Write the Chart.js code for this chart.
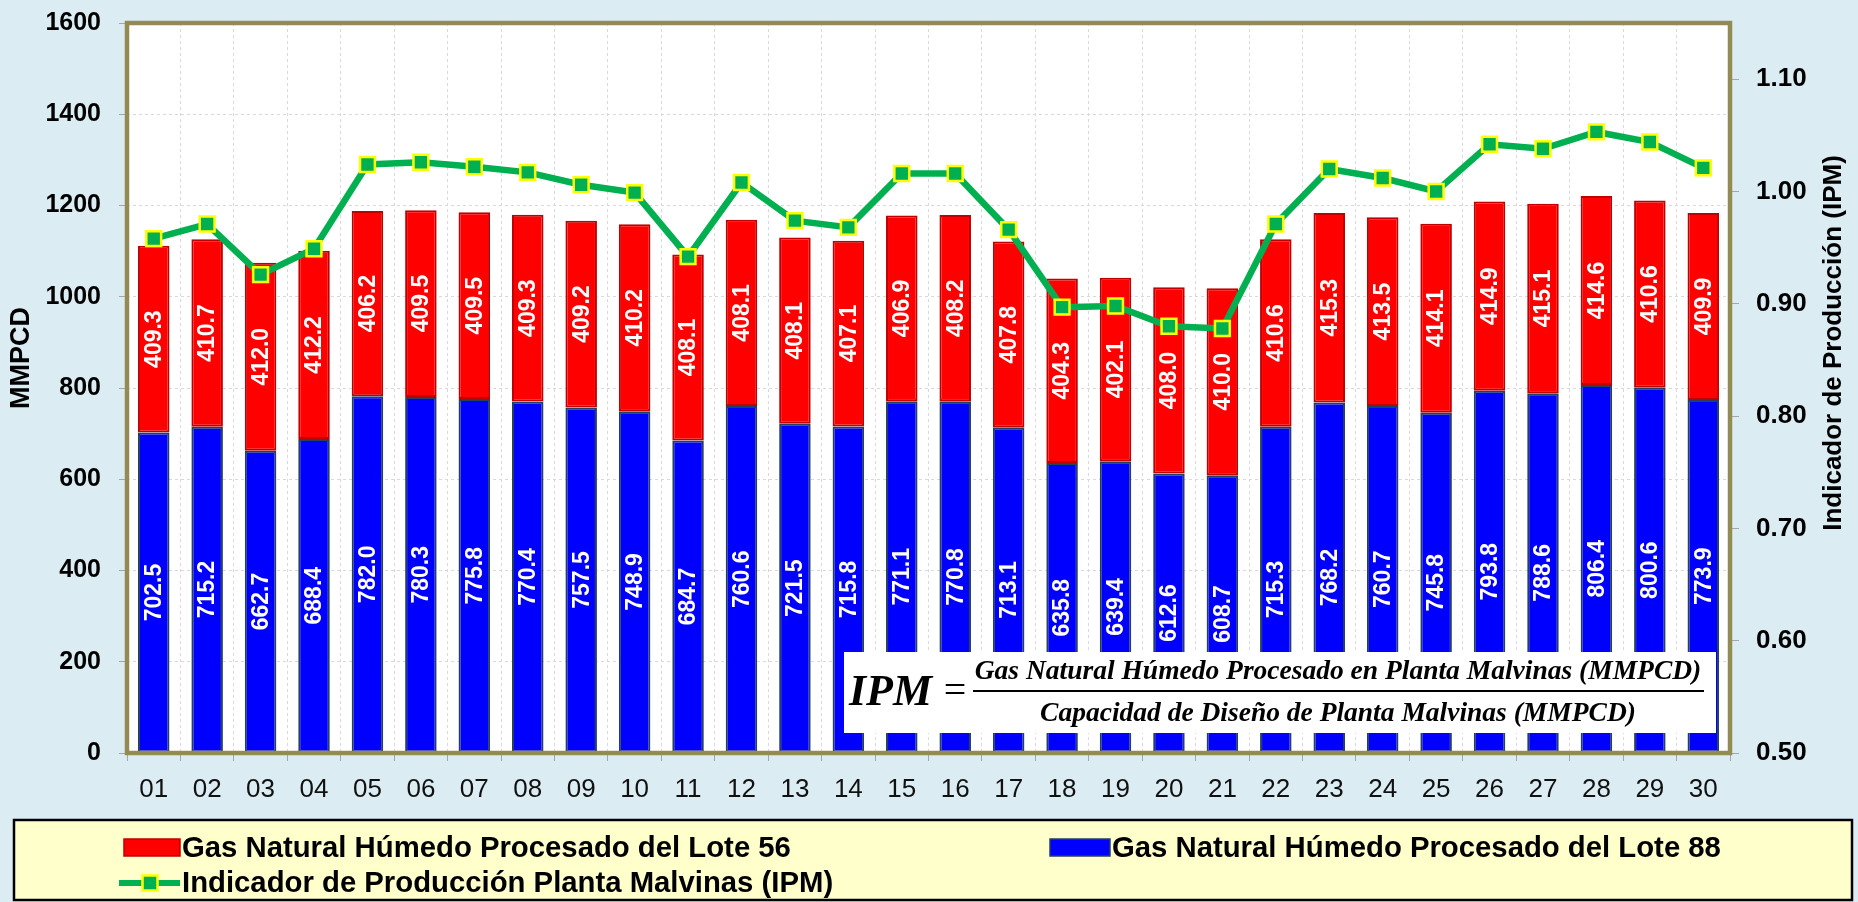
<!DOCTYPE html>
<html>
<head>
<meta charset="utf-8">
<script src="https://cdn.jsdelivr.net/npm/chart.js@4.4.1/dist/chart.umd.min.js"></script>
<style>
  html, body { margin: 0; padding: 0; background: #dbedf3; }
  canvas { display: block; }
</style>
</head>
<body>
<canvas id="chart" width="1858" height="902"></canvas>
<script>
const days = ['01', '02', '03', '04', '05', '06', '07', '08', '09', '10',
  '11', '12', '13', '14', '15', '16', '17', '18', '19', '20',
  '21', '22', '23', '24', '25', '26', '27', '28', '29', '30'];

// MMPCD
const lote56 = [409.3, 410.7, 412.0, 412.2, 406.2, 409.5, 409.5, 409.3, 409.2, 410.2,
  408.1, 408.1, 408.1, 407.1, 406.9, 408.2, 407.8, 404.3, 402.1, 408.0,
  410.0, 410.6, 415.3, 413.5, 414.1, 414.9, 415.1, 414.6, 410.6, 409.9];
const lote88 = [702.5, 715.2, 662.7, 688.4, 782.0, 780.3, 775.8, 770.4, 757.5, 748.9,
  684.7, 760.6, 721.5, 715.8, 771.1, 770.8, 713.1, 635.8, 639.4, 612.6,
  608.7, 715.3, 768.2, 760.7, 745.8, 793.8, 788.6, 806.4, 800.6, 773.9];
// IPM
const ipm = [0.958, 0.971, 0.926, 0.949, 1.024, 1.026, 1.022, 1.017, 1.006, 0.999,
  0.942, 1.008, 0.974, 0.968, 1.016, 1.016, 0.966, 0.897, 0.898, 0.880,
  0.878, 0.971, 1.020, 1.012, 1.000, 1.042, 1.038, 1.053, 1.044, 1.021];

const labels56 = 'Gas Natural Húmedo Procesado del Lote 56';
const labels88 = 'Gas Natural Húmedo Procesado del Lote 88';
const labelIpm = 'Indicador de Producción Planta Malvinas (IPM)';
const titleLeft = 'MMPCD';
const titleRight = 'Indicador de Producción (IPM)';
const formulaTop = 'Gas Natural Húmedo Procesado en Planta Malvinas (MMPCD)';
const formulaBottom = 'Capacidad de Diseño de Planta Malvinas (MMPCD)';

const SANS = '"Liberation Sans", Arial, sans-serif';
const SERIF = '"Liberation Serif", "DejaVu Serif", serif';
const GREEN = '#00b050';

function square(ctx, x, y, s) {
  ctx.fillStyle = GREEN;
  ctx.fillRect(x - s / 2, y - s / 2, s, s);
  ctx.strokeStyle = '#ffff00';
  ctx.lineWidth = 2.5;
  ctx.strokeRect(x - s / 2, y - s / 2, s, s);
}

const decor = {
  id: 'decor',
  beforeDraw(chart) {
    const { ctx, chartArea: a } = chart;
    ctx.save();
    ctx.fillStyle = '#dbedf3';
    ctx.fillRect(0, 0, chart.width, chart.height);
    ctx.fillStyle = '#ffffff';
    ctx.fillRect(a.left, a.top, a.right - a.left, a.bottom - a.top);
    ctx.restore();
  },
  afterDatasetDraw(chart, args) {
    const meta = args.meta;
    if (meta.type !== 'bar') return;
    const ctx = chart.ctx;
    const values = chart.data.datasets[args.index].data;
    ctx.save();
    ctx.fillStyle = '#ffffff';
    ctx.font = 'bold 23px ' + SANS;
    ctx.textAlign = 'center';
    ctx.textBaseline = 'middle';
    meta.data.forEach((bar, i) => {
      ctx.save();
      ctx.translate(bar.x + 1, (bar.y + bar.base) / 2);
      ctx.rotate(-Math.PI / 2);
      ctx.fillText(values[i].toFixed(1), 0, 0);
      ctx.restore();
    });
    ctx.restore();
  },
  afterDatasetsDraw(chart) {
    const { ctx, chartArea: a } = chart;
    ctx.save();
    // formula box
    ctx.fillStyle = '#ffffff';
    ctx.fillRect(844, 652, 872, 81);
    ctx.fillStyle = '#000';
    ctx.textBaseline = 'alphabetic';
    ctx.textAlign = 'left';
    ctx.font = 'bold italic 44px ' + SERIF;
    ctx.fillText('IPM', 849, 705);
    ctx.textAlign = 'center';
    ctx.font = '40px ' + SERIF;
    ctx.fillText('=', 955, 703);
    ctx.font = 'bold italic 24px ' + SERIF;
    const size = 24 * 726 / ctx.measureText(formulaTop).width;
    ctx.font = 'bold italic ' + size.toFixed(1) + 'px ' + SERIF;
    ctx.fillText(formulaTop, 1338, 679);
    ctx.fillText(formulaBottom, 1338, 721);
    ctx.fillRect(973, 690, 731, 2);
    // plot frame
    ctx.strokeStyle = '#948a54';
    ctx.lineWidth = 4.5;
    ctx.strokeRect(a.left, a.top, a.right - a.left, a.bottom - a.top);
    ctx.restore();
  },
  afterDraw(chart) {
    const ctx = chart.ctx;
    const ds = chart.data.datasets;
    ctx.save();
    // axis titles
    ctx.fillStyle = '#000';
    ctx.textAlign = 'center';
    ctx.textBaseline = 'middle';
    ctx.font = 'bold 27px ' + SANS;
    ctx.translate(22, 358);
    ctx.rotate(-Math.PI / 2);
    ctx.fillText(titleLeft, 0, 0);
    ctx.setTransform(1, 0, 0, 1, 0, 0);
    ctx.font = 'bold 26px ' + SANS;
    ctx.translate(1834, 343);
    ctx.rotate(-Math.PI / 2);
    ctx.fillText(titleRight, 0, 0);
    ctx.setTransform(1, 0, 0, 1, 0, 0);

    // legend box
    ctx.fillStyle = '#ffffcc';
    ctx.fillRect(14, 820, 1838, 80);
    ctx.strokeStyle = '#000';
    ctx.lineWidth = 2.5;
    ctx.strokeRect(14, 820, 1838, 80);

    ctx.font = 'bold 29.3px ' + SANS;
    ctx.textAlign = 'left';
    ctx.fillStyle = ds[1].backgroundColor;
    ctx.fillRect(124, 839, 56, 17);
    ctx.strokeStyle = ds[1].borderColor;
    ctx.lineWidth = 1.5;
    ctx.strokeRect(124, 839, 56, 17);
    ctx.fillStyle = ds[0].backgroundColor;
    ctx.fillRect(1050, 839, 60, 17);
    ctx.strokeStyle = ds[0].borderColor;
    ctx.strokeRect(1050, 839, 60, 17);

    ctx.strokeStyle = GREEN;
    ctx.lineWidth = 6;
    ctx.beginPath();
    ctx.moveTo(119, 883);
    ctx.lineTo(180, 883);
    ctx.stroke();
    square(ctx, 150, 883, 15);

    ctx.fillStyle = '#000';
    ctx.fillText(ds[1].label, 182, 849);
    ctx.fillText(ds[0].label, 1112, 849);
    ctx.fillText(ds[2].label, 182, 884);
    ctx.restore();
  }
};

new Chart(document.getElementById('chart'), {
  type: 'bar',
  data: {
    labels: days,
    datasets: [
      {
        label: labels88,
        data: lote88,
        backgroundColor: '#0000ff',
        borderColor: '#243f60',
        borderWidth: 2,
        borderSkipped: false,
        barPercentage: 0.59,
        categoryPercentage: 1,
        yAxisID: 'y',
        order: 2
      },
      {
        label: labels56,
        data: lote56,
        backgroundColor: '#ff0000',
        borderColor: '#c00000',
        borderWidth: 2,
        borderSkipped: false,
        barPercentage: 0.59,
        categoryPercentage: 1,
        yAxisID: 'y',
        order: 2
      },
      {
        type: 'line',
        label: labelIpm,
        data: ipm,
        borderColor: GREEN,
        borderWidth: 6.5,
        pointStyle: 'rect',
        pointRadius: 10.5,
        pointBackgroundColor: GREEN,
        pointBorderColor: '#ffff00',
        pointBorderWidth: 2.5,
        tension: 0,
        yAxisID: 'y1',
        order: 0
      }
    ]
  },
  options: {
    responsive: false,
    animation: false,
    layout: { padding: { top: 23, left: 0, right: 0, bottom: 0 } },
    plugins: {
      legend: { display: false },
      tooltip: { enabled: false }
    },
    scales: {
      x: {
        stacked: true,
        afterFit: s => { s.height = 149; s.paddingLeft = 0; s.paddingRight = 0; },
        grid: { color: '#d9d9d9', tickColor: '#a6a6a6', tickLength: 8, tickBorderDash: [] },
        border: { display: false, dash: [3, 3] },
        ticks: { color: '#111', padding: 13, font: { family: SANS, size: 26 } }
      },
      y: {
        stacked: true,
        min: 0,
        max: 1600,
        afterFit: s => { s.width = 127; s.paddingTop = 0; s.paddingBottom = 0; },
        grid: { color: '#d9d9d9', tickColor: '#a6a6a6', tickLength: 8, tickBorderDash: [] },
        border: { display: false, dash: [3, 3] },
        ticks: {
          stepSize: 200,
          color: '#000',
          padding: 18,
          font: { family: SANS, size: 25, weight: 'bold' },
          callback: v => String(v)
        }
      },
      y1: {
        position: 'right',
        min: 0.5,
        max: 1.15,
        afterFit: s => { s.width = 128; s.paddingTop = 0; s.paddingBottom = 0; },
        grid: { drawOnChartArea: false, tickColor: '#a6a6a6', tickLength: 9 },
        border: { display: false },
        ticks: {
          stepSize: 0.1,
          includeBounds: false,
          color: '#000',
          padding: 17,
          font: { family: SANS, size: 26, weight: 'bold' },
          callback: v => v.toFixed(2)
        }
      }
    }
  },
  plugins: [decor]
});
</script>
</body>
</html>
